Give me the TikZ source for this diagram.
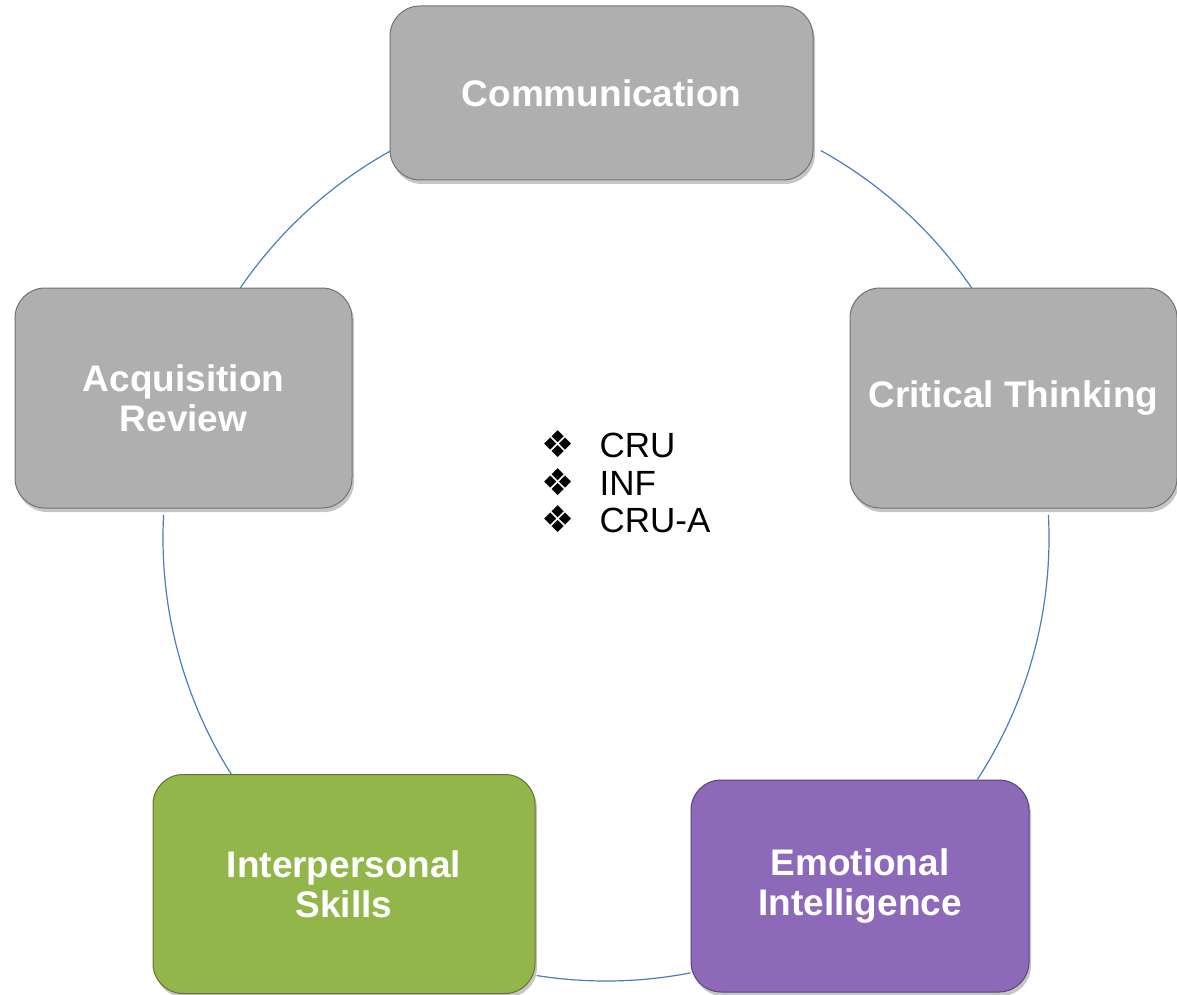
\documentclass[tikz,border=0pt]{standalone}
\usepackage{fontspec}
\setmainfont{Liberation Sans}
\newfontfamily\dingfont{DejaVu Sans}
\usetikzlibrary{shadows}
\definecolor{boxgray}{RGB}{175,175,175}
\definecolor{boxgreen}{RGB}{147,182,74}
\definecolor{boxpurple}{RGB}{140,105,185}
\definecolor{ringblue}{RGB}{74,126,187}
\newcommand\bul{\makebox[58pt][l]{\dingfont\fontsize{37}{37}\selectfont ❖}}

\begin{document}
\begin{tikzpicture}[x=1pt, y=-1pt,
    skill/.style={rounded corners=30pt, draw=#1!65!black, line width=1pt, fill=#1,
        text=white, align=center, inner sep=0pt,
        font=\fontsize{37}{40}\selectfont\bfseries,
        drop shadow={opacity=0.45, shadow xshift=2pt, shadow yshift=-4pt}},
    ring/.style={ringblue, line width=1.2pt}]
                \useasboundingbox (0,0) rectangle (1177,995);
                \coordinate (hub) at (606,538);
                % ring pieces between the boxes
                \foreach \s/\e in {-119/-146, 183/147, 99/79, 33/-3, -34/-61}
                    \draw[ring] (hub) ++(\s:443) arc[start angle=\s, end angle=\e, radius=443];
                \node[skill=boxgray, minimum width=423, minimum height=174] (comm) at (601.5,93) {Communication};
                \node[skill=boxgray, minimum width=327, minimum height=220] (crit) at (1013.5,398) {\raisebox{-3pt}{Critical Thinking}};
                \node[skill=boxgray, minimum width=337, minimum height=220] (acq) at (183.5,398) {Acquisition\\Review};
                \node[skill=boxgreen, minimum width=382, minimum height=219] (inter) at (344,884) {Interpersonal\\Skills};
                \node[skill=boxpurple, minimum width=338, minimum height=212] (emo) at (860,886) {Emotional\\Intelligence};
                \node[anchor=west, align=left, font=\fontsize{35}{37.5}\selectfont] (codes) at (538,482) {\bul CRU\\\bul INF\\\bul CRU-A};
            \end{tikzpicture}
\end{document}
